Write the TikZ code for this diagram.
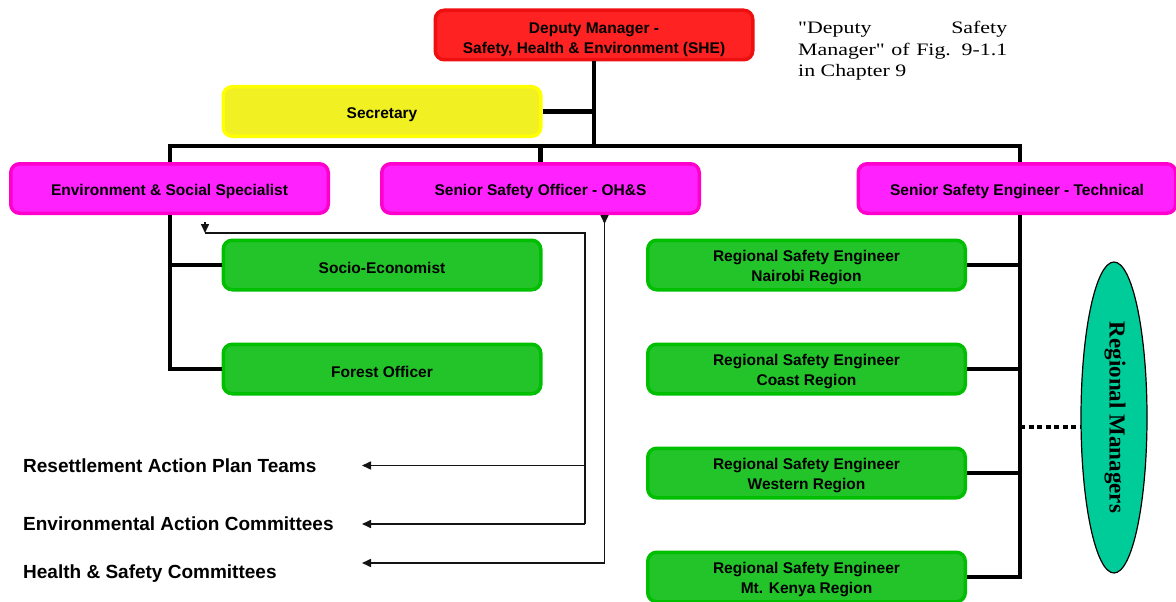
\documentclass[tikz,border=0pt]{standalone}
\usepackage{fontspec}
\setsansfont{Liberation Sans}
\newfontfamily\notefont{Liberation Serif}[FakeStretch=1.25]
\newfontfamily\ellfont{Liberation Serif}
\usetikzlibrary{arrows.meta,shapes.geometric}
\definecolor{redfill}{RGB}{255,34,34}
\definecolor{redline}{RGB}{238,16,16}
\definecolor{yelfill}{RGB}{240,240,34}
\definecolor{yelline}{RGB}{255,255,0}
\definecolor{magfill}{RGB}{255,34,255}
\definecolor{magline}{RGB}{255,0,204}
\definecolor{grnfill}{RGB}{34,196,42}
\definecolor{grnline}{RGB}{0,190,0}
\definecolor{tealfill}{RGB}{0,204,153}
\definecolor{thinc}{RGB}{20,20,20}
\newcommand\liftA{\rule{0pt}{20pt}}
\newcommand\liftB{\rule{0pt}{16pt}}
\begin{document}
\begin{tikzpicture}[x=1pt,y=-1pt,
  orgbox/.style={rounded corners=9pt, line width=3.5pt, minimum width=317.5pt,
    minimum height=49.5pt, inner sep=0pt, align=center,
    font=\sffamily\bfseries\fontsize{15.5}{19.5}\selectfont},
  onebox/.style={execute at begin node={\rule{0pt}{17.5pt}}},
  redbox/.style={orgbox, fill=redfill, draw=redline},
  yelbox/.style={orgbox, onebox, fill=yelfill, draw=yelline},
  magbox/.style={orgbox, onebox, fill=magfill, draw=magline},
  grnbox/.style={orgbox, fill=grnfill, draw=grnline},
  grnone/.style={grnbox, onebox},
  conn/.style={line width=4.5pt, black},
  thinl/.style={line width=1.6pt, thinc},
  tip/.style={-{Triangle[length=9pt,width=8pt]}},
  dotline/.style={line width=4.5pt, dash pattern=on 5pt off 3.5pt},
  sidetext/.style={anchor=base west, inner sep=0pt,
    font=\sffamily\bfseries\fontsize{19}{22}\selectfont},
  notetext/.style={anchor=base west, inner sep=0pt,
    font=\notefont\fontsize{17.5}{21.5}\selectfont}
]
\useasboundingbox (0,0) rectangle (1176,602);

% boxes
\node[redbox] (dep) at (594,35) {\liftA Deputy Manager -\\Safety, Health \& Environment (SHE)};
\node[yelbox] (sec) at (382,111.5) {Secretary};
\node[magbox] (ess) at (169.5,188.5) {Environment \& Social Specialist};
\node[magbox] (sso) at (540.5,188.5) {Senior Safety Officer - OH\&S};
\node[magbox] (sse) at (1017,188.5) {Senior Safety Engineer - Technical};
\node[grnone] (socio) at (382,265) {Socio-Economist};
\node[grnone] (forest) at (382,369) {Forest Officer};
\node[grnbox] (rn) at (806.5,265) {\liftB Regional Safety Engineer\\Nairobi Region};
\node[grnbox] (rc) at (806.5,369) {\liftB Regional Safety Engineer\\Coast Region};
\node[grnbox] (rw) at (806.5,473) {\liftB Regional Safety Engineer\\Western Region};
\node[grnbox] (rk) at (806.5,577) {\liftB Regional Safety Engineer\\Mt. Kenya Region};

% ellipse
\node[ellipse, draw=black, fill=tealfill, line width=1.2pt, inner sep=0pt,
  minimum width=66pt, minimum height=311pt] (rm) at (1114,417.5) {};
\node[rotate=-90, inner sep=0pt, font=\ellfont\bfseries\fontsize{23}{23}\selectfont]
  (rmtext) at (1115,417.5) {Regional Managers};

% note
\node[notetext] (note1) at (798,34) {\makebox[209pt][s]{"Deputy Safety}};
\node[notetext] (note2) at (798,55.5) {\makebox[209pt][s]{Manager" of Fig. 9-1.1}};
\node[notetext] (note3) at (798,77) {in Chapter 9};

% side texts
\node[sidetext] (rap) at (23,472) {Resettlement Action Plan Teams};
\node[sidetext] (eac) at (23,530) {Environmental Action Committees};
\node[sidetext] (hsc) at (23,578) {Health \& Safety Committees};

% org connectors
\coordinate (busL) at (170,146);
\coordinate (busR) at (1020,146);
\draw[conn] (dep.south) -- (dep.south |- busL);
\draw[conn] (sec.east) -- (sec.east -| dep.south);
\draw[conn] (busL |- ess.north) -- (busL) -- (busR) -- (busR |- sse.north);
\draw[conn] (sso.north |- busL) -- (sso.north);
\draw[conn] (busL |- ess.south) -- (busL |- forest.west) -- (forest.west);
\draw[conn] (socio.west) -- (socio.west -| busL);
\draw[conn] (busR |- sse.south) -- (busR |- rk.east) -- (rk.east);
\draw[conn] (rn.east) -- (rn.east -| busR);
\draw[conn] (rc.east) -- (rc.east -| busR);
\draw[conn] (rw.east) -- (rw.east -| busR);
\draw[dotline] (busR |- rm.196) -- (rm.196);

% thin arrows
\coordinate (t1) at (205,233);
\coordinate (j1) at (585,233);
\coordinate (a1) at (362,465.5);
\coordinate (a2) at (362,524);
\coordinate (j2) at (604.5,563);
\coordinate (a3) at (362,563);
\draw[thinl] (t1) -- (j1) -- (j1 |- a2);
\draw[thinl,tip] (j1 |- a1) -- (a1);
\draw[thinl,tip] (j1 |- a2) -- (a2);
\draw[thinl,tip] (t1) ++(0,-11) -- (t1);
\draw[thinl] (j2 |- sso.south) -- (j2);
\draw[thinl,tip] (j2) -- (a3);
\draw[thinl,tip] (j2 |- sso.south) -- ++(0,9);
\end{tikzpicture}
\end{document}
